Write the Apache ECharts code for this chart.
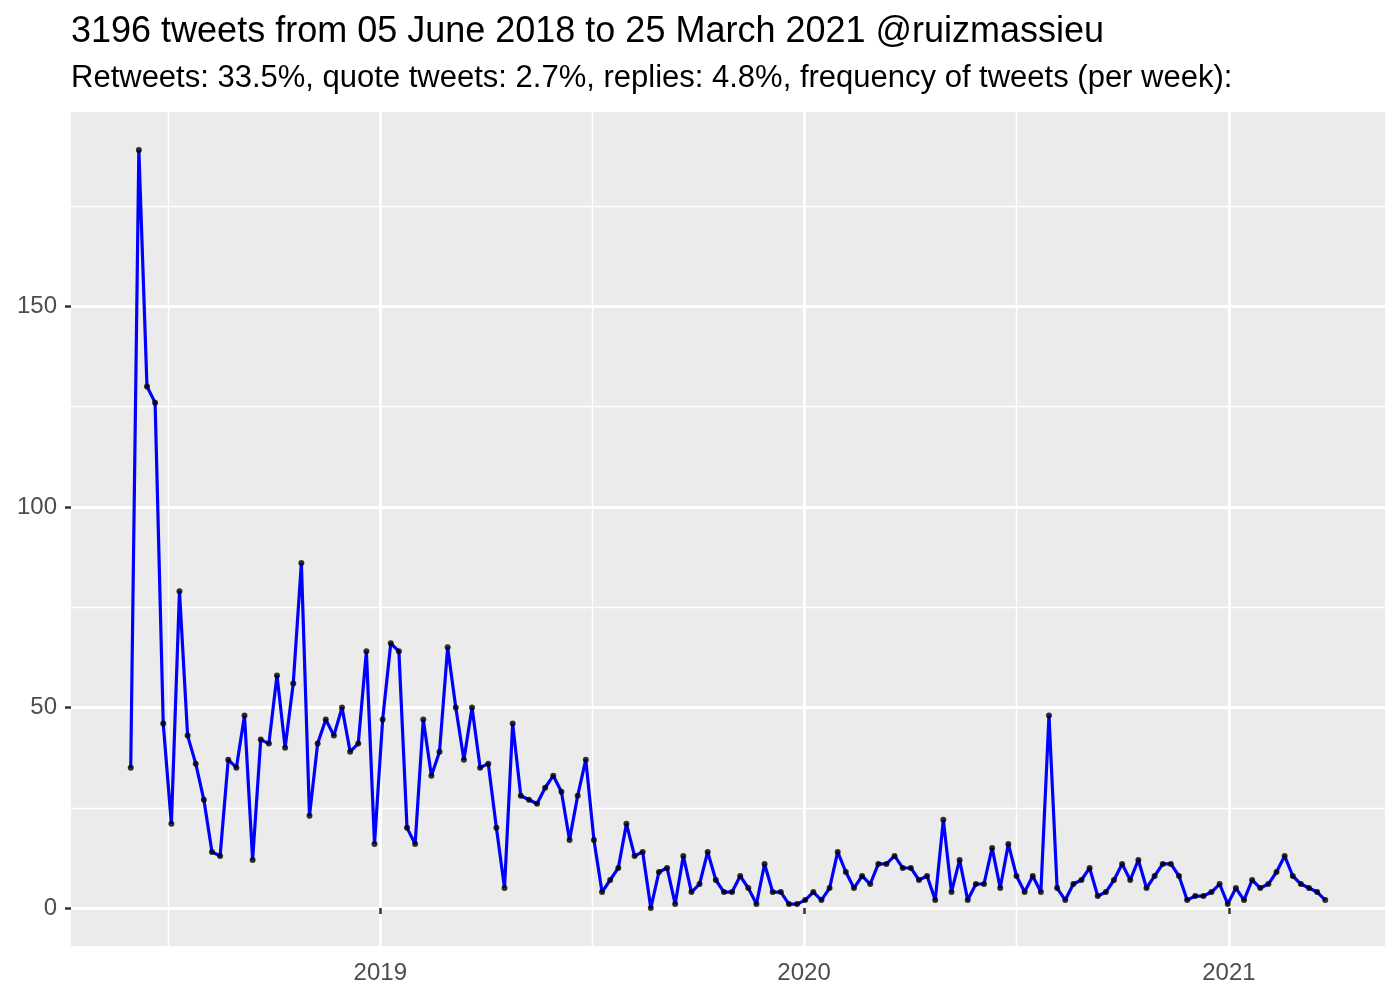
<!DOCTYPE html>
<html>
<head>
<meta charset="utf-8">
<script src="https://cdn.jsdelivr.net/npm/echarts@6/dist/echarts.min.js"></script>
<style>html,body{margin:0;padding:0;background:#fff}#chart{width:1400px;height:1000px}</style>
</head>
<body>
<div id="chart"></div>
<script>
const titleText = '3196 tweets from 05 June 2018 to 25 March 2021 @ruizmassieu';
const subtitleText = 'Retweets: 33.5%, quote tweets: 2.7%, replies: 4.8%, frequency of tweets (per week):';
const firstWeek = [2018, 4, 31]; // week bins (UTC), one per 7 days
const weeklyCounts = [35,189,130,126,46,21,79,43,36,27,14,13,37,35,48,12,42,41,58,40,56,86,23,41,47,43,50,39,41,64,16,47,66,64,20,16,47,33,39,65,50,37,50,35,36,20,5,46,28,27,26,30,33,29,17,28,37,17,4,7,10,21,13,14,0,9,10,1,13,4,6,14,7,4,4,8,5,1,11,4,4,1,1,2,4,2,5,14,9,5,8,6,11,11,13,10,10,7,8,2,22,4,12,2,6,6,15,5,16,8,4,8,4,48,5,2,6,7,10,3,4,7,11,7,12,5,8,11,11,8,2,3,3,4,6,1,5,2,7,5,6,9,13,8,6,5,4,2];
const yTicks = [0, 50, 100, 150];
const yMinorTicks = [25, 75, 125, 175];
const xTickDates = ['2019-01-01T00:00:00Z', '2020-01-01T00:00:00Z', '2021-01-01T00:00:00Z'];
const xMinorDates = ['2018-07-02T12:00:00Z', '2019-07-02T12:00:00Z', '2020-07-02T00:00:00Z'];

const DAY = 86400000;
const start = Date.UTC(firstWeek[0], firstWeek[1], firstWeek[2]);
const weekDates = weeklyCounts.map((_, i) => start + i * 7 * DAY);
const points = weekDates.map((d, i) => [d, weeklyCounts[i]]);

const xLo = weekDates[0], xHi = weekDates[weekDates.length - 1];
const xPad = (xHi - xLo) * 0.05;
const yLo = Math.min(...weeklyCounts), yHi = Math.max(...weeklyCounts);
const yPad = (yHi - yLo) * 0.05;
const xTicksMs = xTickDates.map(s => Date.parse(s));
const xMinorMs = xMinorDates.map(s => Date.parse(s));

const FONT = '"Liberation Sans", Arial, Helvetica, sans-serif';
const chart = echarts.init(document.getElementById('chart'), null, {renderer: 'canvas'});
chart.setOption({
  animation: false,
  backgroundColor: '#ffffff',
  title: [
    {text: titleText, left: 71, top: 14, padding: 0,
     textStyle: {fontSize: 36, fontWeight: 'normal', color: '#000000', fontFamily: FONT}},
    {text: subtitleText, left: 71, top: 63, padding: 0,
     textStyle: {fontSize: 31, fontWeight: 'normal', color: '#000000', fontFamily: FONT}}
  ],
  grid: {left: 71, right: 15, top: 112, bottom: 54, show: true, backgroundColor: '#EBEBEB', borderWidth: 0},
  xAxis: [
    {type: 'value', min: xLo - xPad, max: xHi + xPad, position: 'bottom',
     axisLine: {show: false},
     axisTick: {show: true, length: 6, lineStyle: {color: '#333333', width: 2.5}, customValues: xTicksMs},
     axisLabel: {show: true, customValues: xTicksMs, margin: 15, color: '#4D4D4D', fontSize: 24, fontFamily: FONT,
       formatter: v => String(new Date(v).getUTCFullYear())},
     splitLine: {show: true, lineStyle: {color: '#ffffff', width: 2.9}}},
    {type: 'value', min: xLo - xPad, max: xHi + xPad, position: 'top',
     axisLine: {show: false},
     axisTick: {show: false, customValues: xMinorMs},
     axisLabel: {show: false, customValues: xMinorMs},
     splitLine: {show: true, lineStyle: {color: '#ffffff', width: 1.45}}}
  ],
  yAxis: [
    {type: 'value', min: yLo - yPad, max: yHi + yPad, position: 'left',
     axisLine: {show: false},
     axisTick: {show: true, length: 6, lineStyle: {color: '#333333', width: 2.5}, customValues: yTicks},
     axisLabel: {show: true, customValues: yTicks, margin: 14, color: '#4D4D4D', fontSize: 24, fontFamily: FONT},
     splitLine: {show: true, lineStyle: {color: '#ffffff', width: 2.9}}},
    {type: 'value', min: yLo - yPad, max: yHi + yPad, position: 'right',
     axisLine: {show: false},
     axisTick: {show: false, customValues: yMinorTicks},
     axisLabel: {show: false, customValues: yMinorTicks},
     splitLine: {show: true, lineStyle: {color: '#ffffff', width: 1.45}}}
  ],
  series: [
    {type: 'line', data: points, xAxisIndex: 0, yAxisIndex: 0, showSymbol: false, z: 2,
     lineStyle: {color: '#0000FF', width: 3.2}, silent: true},
    {type: 'scatter', data: points, xAxisIndex: 0, yAxisIndex: 0, symbolSize: 6, z: 3,
     itemStyle: {color: '#000000'}, silent: true}
  ]
});
</script>
</body>
</html>
